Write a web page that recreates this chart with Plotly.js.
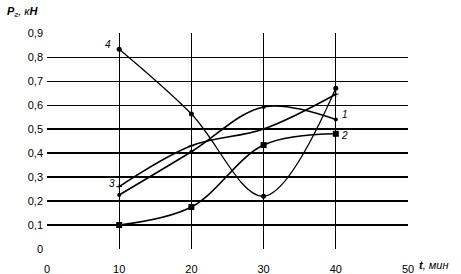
<!DOCTYPE html>
<html>
<head>
<meta charset="utf-8">
<script src="https://cdn.plot.ly/plotly-3.0.1.min.js"></script>
<style>html,body{margin:0;padding:0;background:#fff;}#chart{width:461px;height:274px;}</style>
</head>
<body>
<div id="chart"></div>
<script>
var t = [10, 20, 30, 40];
var series1 = [0.225, 0.405, 0.592, 0.54];
var series2 = [0.10, 0.175, 0.433, 0.48];
var series3 = [0.26, 0.43, 0.50, 0.645];
var series4 = [0.832, 0.5625, 0.22, 0.67];
var seriesNames = ['1', '2', '3', '4'];
var xTickVals = [0, 10, 20, 30, 40, 50];
var xTickText = ['0', '10', '20', '30', '40', '50'];
var yTickVals = [0, 0.1, 0.2, 0.3, 0.4, 0.5, 0.6, 0.7, 0.8, 0.9];
var yTickText = ['0', '0,1', '0,2', '0,3', '0,4', '0,5', '0,6', '0,7', '0,8', '0,9'];
var yThickVals = [0, 0.1, 0.2, 0.3, 0.4, 0.5];
var xGridVals = [10, 20, 30, 40];

var font = {family: 'Liberation Sans, Arial, sans-serif', size: 11, color: '#000'};
function line(w) { return {color: '#000', width: w, shape: 'spline', smoothing: 1}; }

var traces = [
  {x: t, y: series1, name: seriesNames[0], mode: 'lines+markers', line: line(1.6),
   marker: {symbol: 'circle', size: 4, color: '#000'}, xaxis: 'x', yaxis: 'y'},
  {x: t, y: series2, name: seriesNames[1], mode: 'lines+markers', line: line(1.6),
   marker: {symbol: 'square', size: 6, color: '#000'}, xaxis: 'x', yaxis: 'y2'},
  {x: t, y: series3, name: seriesNames[2], mode: 'lines+markers', line: line(1.6),
   marker: {symbol: 'cross-thin', size: 4, color: '#000', line: {color: '#000', width: 1}}, xaxis: 'x', yaxis: 'y'},
  {x: t, y: series4, name: seriesNames[3], mode: 'lines+markers', line: line(1.3),
   marker: {symbol: 'circle', size: 5, color: '#000'}, xaxis: 'x2', yaxis: 'y'}
];

var annotations = [
  {x: t[0], y: series4[0], text: '<i>' + seriesNames[3] + '</i>', xshift: -11, yshift: 5},
  {x: t[0], y: series3[0], text: '<i>' + seriesNames[2] + '</i>', xshift: -7, yshift: 3},
  {x: t[3], y: series1[3], text: '<i>' + seriesNames[0] + '</i>', xshift: 9, yshift: 5},
  {x: t[3], y: series2[3], text: '<i>' + seriesNames[1] + '</i>', xshift: 9, yshift: -2}
].map(function (a) {
  return Object.assign({xref: 'x', yref: 'y', showarrow: false, font: {family: font.family, size: 10, color: '#000'}}, a);
});
annotations.push({xref: 'paper', yref: 'paper', x: -0.115, y: 1.095, xanchor: 'left', yanchor: 'middle',
  showarrow: false, text: '<b><i>P</i></b><sub><i>г</i></sub><i>, к<b>Н</b></i>',
  font: {family: font.family, size: 11, color: '#000'}});
annotations.push({xref: 'paper', yref: 'paper', x: 1.025, y: -0.075, xanchor: 'left', yanchor: 'middle',
  showarrow: false, text: '<b><i>t</i></b><i>, мин</i>',
  font: {family: font.family, size: 11, color: '#000'}});

var layout = {
  width: 461, height: 274,
  margin: {l: 47, r: 53, t: 33, b: 25, pad: 0},
  paper_bgcolor: '#fff', plot_bgcolor: '#fff',
  showlegend: false,
  font: font,
  xaxis: {range: [0, 50], tickvals: xTickVals, ticktext: xTickText, showgrid: false, zeroline: false,
          showline: false, ticks: '', tickfont: font, ticklabelstandoff: 12, fixedrange: true},
  xaxis2: {range: [0, 50], overlaying: 'x', tickvals: xGridVals, showticklabels: false, showgrid: true,
           gridcolor: '#000', gridwidth: 1, zeroline: false, showline: false, ticks: '', fixedrange: true},
  yaxis: {range: [0, 0.9], tickvals: yTickVals, ticktext: yTickText, showgrid: true, gridcolor: '#000',
          gridwidth: 1, zeroline: false, showline: false, ticks: '', tickfont: font, ticklabelstandoff: 3,
          fixedrange: true},
  yaxis2: {range: [0, 0.9], overlaying: 'y', tickvals: yThickVals, showticklabels: false, showgrid: true,
           gridcolor: '#000', gridwidth: 2, zeroline: false, showline: false, ticks: '', fixedrange: true},
  annotations: annotations
};

Plotly.newPlot('chart', traces, layout, {staticPlot: true, displayModeBar: false});
</script>
</body>
</html>
